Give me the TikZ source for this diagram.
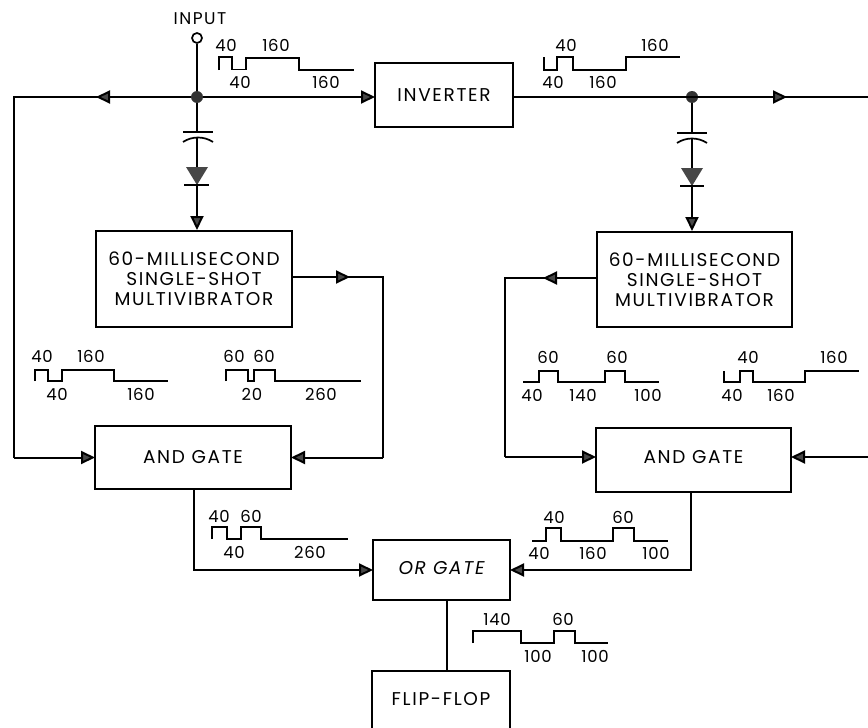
\documentclass[tikz,border=0pt]{standalone}
\usepackage{fontspec}
\setmainfont[LetterSpace=9]{Poppins}
\newfontfamily\numfont[LetterSpace=4]{Poppins}
\usetikzlibrary{arrows.meta}
\tikzset{
  wire/.style={line width=2pt},
  flow/.style={wire, -{Triangle[length=14pt,width=13pt,fill=black!72]}},
  gatebox/.style={draw, line width=2pt, align=center, inner sep=0pt, outer sep=0pt, font=\fontsize{18.5}{20}\selectfont},
  wave/.style={line width=1.7pt},
  timing/.style={inner sep=0pt, font=\numfont\fontsize{16.5}{18}\selectfont},
  dot/.style={circle, fill=black!80, inner sep=0pt, minimum size=12pt},
  plate/.style={line width=1.7pt}
}
\begin{document}
\begin{tikzpicture}[x=1pt, y=-1pt]
\useasboundingbox (0,0) rectangle (868,728);
% boxes
\node[gatebox, minimum width=138pt, minimum height=64pt] (inverter) at (444,95) {INVERTER};
\node[gatebox, minimum width=196pt, minimum height=96pt] (shotleft) at (194,279) {60-MILLISECOND\\SINGLE-SHOT\\MULTIVIBRATOR};
\node[gatebox, minimum width=195pt, minimum height=95pt] (shotright) at (694.5,279.5) {60-MILLISECOND\\SINGLE-SHOT\\MULTIVIBRATOR};
\node[gatebox, minimum width=196pt, minimum height=63pt, text depth=2pt] (andleft) at (193,457.5) {AND GATE};
\node[gatebox, minimum width=195pt, minimum height=64pt, text depth=6pt] (andright) at (693.5,460) {AND GATE};
\node[gatebox, minimum width=137pt, minimum height=60pt, text depth=4pt, font=\fontsize{18.5}{20}\selectfont\itshape] (orgate) at (441.5,570) {OR GATE};
\node[gatebox, minimum width=138pt, minimum height=66pt, text depth=10pt] (flipflop) at (441,704) {FLIP-FLOP};
% input and junctions
\node[circle, draw, line width=1.7pt, inner sep=0pt, minimum size=10pt] (input) at (197,38) {};
\node[inner sep=0pt, font=\fontsize{17}{18}\selectfont] (inputlabel) at (200,19) {INPUT};
\node[dot] (juncleft) at (197,97) {};
\node[dot] (juncright) at (692,97) {};
% connector points
\coordinate (outleft) at (14,97);
\coordinate (arrowleft) at (96,97);
\coordinate (arrowright) at (787,97);
\coordinate (outright) at (868,97);
\coordinate (capleft) at (197,132);
\coordinate (capleftb) at (197,138);
\coordinate (capright) at (692,133);
\coordinate (caprightb) at (692,139);
\coordinate (turnleft) at (383,277);
\coordinate (arrowturn) at (350,277);
\coordinate (turnright) at (505,278);
\coordinate (arrowshot) at (543,278);
\coordinate (inright) at (868,457);
% input side
\draw[wire] (input) -- (juncleft);
\draw[wire] (juncleft) -- (outleft) -- (outleft |- andleft.west);
\draw[flow] (juncleft) -- (arrowleft);
\draw[flow] (outleft |- andleft.west) -- (andleft.west);
\draw[flow] (juncleft) -- (juncleft -| inverter.west);
\draw[wire] (juncright -| inverter.east) -- (outright);
\draw[flow] (juncright) -- (arrowright);
% capacitors and diodes
\draw[wire] (juncleft) -- (capleft);
\draw[plate] (183,132) -- (213,132);
\draw[plate] (183,142) .. controls (192,136) and (204,136) .. (213,142);
\draw[flow] (capleftb) -- (197,230);
\fill[black!72] (186,167) -- (208,167) -- (197,185) -- cycle;
\draw[plate] (184,185) -- (209,185);
\draw[wire] (juncright) -- (capright);
\draw[plate] (677,133) -- (707,133);
\draw[plate] (677,143) .. controls (686,137) and (698,137) .. (707,143);
\draw[flow] (caprightb) -- (692,231);
\fill[black!72] (681,168) -- (703,168) -- (692,186) -- cycle;
\draw[plate] (680,186) -- (704,186);
% single shots to and gates
\draw[wire] (shotleft.east |- turnleft) -- (turnleft) -- (turnleft |- andleft.east);
\draw[flow] (shotleft.east |- turnleft) -- (arrowturn);
\draw[flow] (turnleft |- andleft.east) -- (andleft.east);
\draw[wire] (shotright.west |- turnright) -- (turnright) -- (turnright |- inright);
\draw[flow] (shotright.west |- turnright) -- (arrowshot);
\draw[flow] (turnright |- inright) -- (inright -| andright.west);
\draw[flow] (inright) -- (inright -| andright.east);
% or gate
\draw[flow] (194,489) |- (orgate.west);
\draw[flow] (691,492) |- (orgate.east);
\draw[wire] (447,600) -- (447,671);
% waveforms
\draw[wave] (219,70) -- (219,57) -- (232,57) -- (232,69.5) -- (246,69.5) -- (246,58) -- (299,58) -- (299,70) -- (354,70);
\draw[wave] (544,57) -- (544,70) -- (557,70) -- (557,57) -- (573,57) -- (573,70) -- (626,70) -- (626,57) -- (680,57);
\draw[wave] (35,381) -- (35,370) -- (48,370) -- (48,381) -- (62,381) -- (62,370) -- (114,370) -- (114,381) -- (168,381);
\draw[wave] (226,381) -- (226,370) -- (248,370) -- (248,381) -- (254,381) -- (254,370) -- (275,370) -- (275,381) -- (361,381);
\draw[wave] (212,539) -- (212,527) -- (227,527) -- (227,539) -- (241,539) -- (241,527) -- (261,527) -- (261,539) -- (348,539);
\draw[wave] (523,382) -- (539,382) -- (539,371) -- (558,371) -- (558,382) -- (605,382) -- (605,371) -- (625,371) -- (625,382) -- (659,382);
\draw[wave] (724,371) -- (724,382) -- (740,382) -- (740,371) -- (753,371) -- (753,382) -- (805,382) -- (805,371) -- (859,371);
\draw[wave] (532,541) -- (546,541) -- (546,528) -- (561,528) -- (561,541) -- (613,541) -- (613,528) -- (634,528) -- (634,541) -- (668,541);
\draw[wave] (473,643) -- (473,631) -- (521,631) -- (521,643) -- (554,643) -- (554,631) -- (575,631) -- (575,643) -- (608,643);
% timing values
\foreach \xpos/\ypos/\val [count=\i] in {
  226/45/40, 276/45/160, 240/82/40, 326/82/160,
  566/45/40, 655/45/160, 553/82/40, 603/82/160,
  42/356/40, 91/356/160, 57/394/40, 141/394/160,
  234/356/60, 264/356/60, 252/394/20, 321/394/260,
  219/516/40, 251/516/60, 234/552/40, 310/552/260,
  548/357/60, 617/357/60, 532/395/40, 583/395/140, 648/395/100,
  748/357/40, 834/357/160, 732/395/40, 781/395/160,
  554/517/40, 623/517/60, 539/553/40, 593/553/160, 656/553/100,
  497/619/140, 563/619/60, 538/656/100, 595/656/100}
  \node[timing] (val\i) at (\xpos,\ypos) {\val};
\end{tikzpicture}
\end{document}
